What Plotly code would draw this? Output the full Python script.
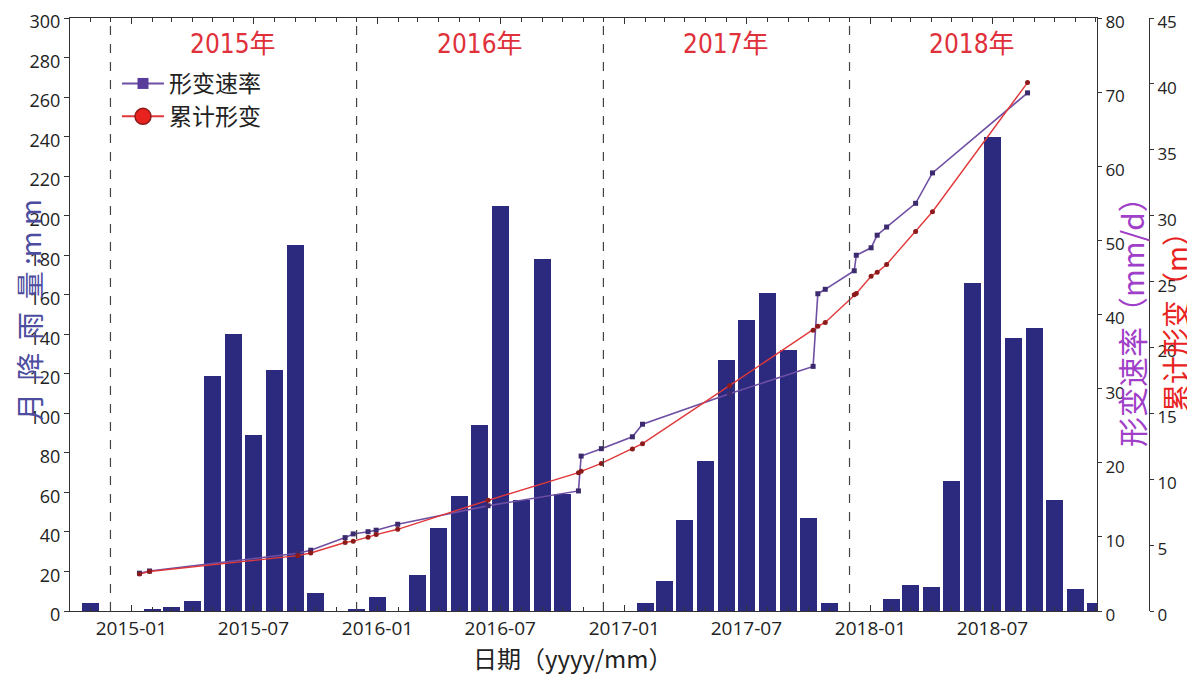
import plotly.graph_objects as go

# ---------------- data ----------------
months = ["2014-10-01", "2014-11-01", "2014-12-01",
          "2015-01-01", "2015-02-01", "2015-03-01", "2015-04-01", "2015-05-01", "2015-06-01",
          "2015-07-01", "2015-08-01", "2015-09-01", "2015-10-01", "2015-11-01", "2015-12-01",
          "2016-01-01", "2016-02-01", "2016-03-01", "2016-04-01", "2016-05-01", "2016-06-01",
          "2016-07-01", "2016-08-01", "2016-09-01", "2016-10-01", "2016-11-01", "2016-12-01",
          "2017-01-01", "2017-02-01", "2017-03-01", "2017-04-01", "2017-05-01", "2017-06-01",
          "2017-07-01", "2017-08-01", "2017-09-01", "2017-10-01", "2017-11-01", "2017-12-01",
          "2018-01-01", "2018-02-01", "2018-03-01", "2018-04-01", "2018-05-01", "2018-06-01",
          "2018-07-01", "2018-08-01", "2018-09-01", "2018-10-01", "2018-11-01", "2018-12-01"]
rain = [0, 4, 0,
        0, 1, 2, 5, 119, 140,
        89, 122, 185, 9, 0, 1,
        7, 0, 18, 42, 58, 94,
        205, 56, 178, 59, 0, 0,
        0, 4, 15, 46, 76, 127,
        147, 161, 132, 47, 4, 0,
        0, 6, 13, 12, 66, 166,
        240, 138, 143, 56, 11, 4]

obs_dates = ["2015-01-13", "2015-01-28", "2015-09-05", "2015-09-24", "2015-11-14",
             "2015-11-26", "2015-12-18", "2015-12-30", "2016-01-31", "2016-06-13",
             "2016-10-25", "2016-10-29", "2016-11-28", "2017-01-13", "2017-01-28",
             "2017-06-06", "2017-10-08", "2017-10-15", "2017-10-26", "2017-12-08",
             "2017-12-11", "2018-01-02", "2018-01-11", "2018-01-25", "2018-03-09",
             "2018-04-03", "2018-08-22"]
rate = [5.1, 5.4, 7.8, 8.2, 9.9,
        10.4, 10.7, 10.9, 11.7, 14.2,
        16.2, 20.9, 21.9, 23.5, 25.2,
        29.3, 33.0, 42.8, 43.4, 45.9,
        48.0, 49.0, 50.7, 51.8, 55.0,
        59.1, 69.9]
cum = [2.8, 3.0, 4.2, 4.4, 5.2,
       5.3, 5.6, 5.8, 6.2, 8.4,
       10.5, 10.6, 11.2, 12.3, 12.7,
       17.1, 21.3, 21.6, 21.9, 24.0,
       24.1, 25.4, 25.7, 26.3, 28.8,
       30.3, 40.1]

year_labels = ["2015年", "2016年", "2017年", "2018年"]
year_centers = ["2015-06-01", "2016-06-01", "2017-06-01", "2018-06-01"]
year_bounds = ["2014-12-01", "2015-12-01", "2016-12-01", "2017-12-01"]
tick_vals = ["2015-01-01", "2015-07-01", "2016-01-01", "2016-07-01",
             "2017-01-01", "2017-07-01", "2018-01-01", "2018-07-01"]
tick_text = ["2015-01", "2015-07", "2016-01", "2016-07",
             "2017-01", "2017-07", "2018-01", "2018-07"]

# ---------------- style ----------------
BAR = "#2c2a7e"
PURPLE = "#6e4fa3"
PURPLE_DARK = "#3b2a6e"
RED = "#e0383a"
RED_DARK = "#8c1a1a"
AXIS = "#333333"
CJK = "Noto Sans CJK SC, Open Sans, sans-serif"
NUM = "Open Sans, Noto Sans, sans-serif"
NARROW = "Liberation Sans Narrow, DejaVu Sans Condensed, Noto Sans CJK SC, sans-serif"

# page body has an 8px margin, so the figure is sized to fit the window
OFF = 8
W, H = 1195 - OFF, 674 - OFF
L, T, B_POS, R_POS, Y2_POS = 70 - OFF, 18 - OFF, 611 - OFF, 1149 - OFF, 1097 - OFF
plot_w = R_POS - L
plot_h = B_POS - T


def px_x(px):
    return (px - OFF - L) / plot_w


def px_y(py):
    return (B_POS - (py - OFF)) / plot_h


bar_width_ms = 25.2 * 86400000

fig = go.Figure()
fig.add_trace(go.Bar(x=months, y=rain, width=bar_width_ms, marker=dict(color=BAR, line=dict(width=0)),
                     showlegend=False, yaxis="y"))
fig.add_trace(go.Scatter(x=obs_dates, y=rate, mode="lines+markers", yaxis="y2", showlegend=False,
                         line=dict(color=PURPLE, width=1.6),
                         marker=dict(symbol="square", size=5, color=PURPLE_DARK)))
fig.add_trace(go.Scatter(x=obs_dates, y=cum, mode="lines+markers", yaxis="y3", showlegend=False,
                         line=dict(color=RED, width=1.4),
                         marker=dict(symbol="circle", size=5, color=RED_DARK)))
# legend entries
fig.add_trace(go.Scatter(x=[None], y=[None], mode="lines+markers", name="形变速率", yaxis="y2",
                         line=dict(color=PURPLE, width=2),
                         marker=dict(symbol="square", size=11, color="#5a3d9a")))
fig.add_trace(go.Scatter(x=[None], y=[None], mode="lines+markers", name="累计形变", yaxis="y3",
                         line=dict(color=RED, width=2),
                         marker=dict(symbol="circle", size=16, color="#e8231f",
                                     line=dict(color=RED_DARK, width=1.5))))

shapes = []
for b in year_bounds:
    shapes.append(dict(type="line", xref="x", yref="paper", x0=b, x1=b, y0=0, y1=1,
                       line=dict(color="#444444", width=1.2, dash="dash")))

annotations = []
for lab, c in zip(year_labels, year_centers):
    annotations.append(dict(text=lab, x=c, xref="x", y=px_y(44), yref="paper", showarrow=False,
                            xanchor="center", yanchor="middle",
                            font=dict(family=NARROW, size=26, color="#e0303a")))
NB = "\u00a0"
left_title = (NB * 2).join(["月", "降", "雨", "量"]) + NB + ":m" + NB + "m"
annotations += [
    dict(text=left_title, textangle=-90, x=px_x(29), xref="paper",
         y=px_y(310), yref="paper", showarrow=False, xanchor="center", yanchor="middle",
         font=dict(family=CJK, size=28, color="#4d4d9f")),
    dict(text="形变速率（mm/d）", textangle=-90, x=px_x(1131), xref="paper", y=px_y(315), yref="paper",
         showarrow=False, xanchor="center", yanchor="middle",
         font=dict(family=CJK, size=30, color="#a040c8")),
    dict(text="累计形变（m）", textangle=-90, x=px_x(1175), xref="paper", y=px_y(315), yref="paper",
         showarrow=False, xanchor="center", yanchor="middle",
         font=dict(family=CJK, size=28, color="#e8231f")),
    dict(text="日期（yyyy/mm）", x=px_x(573), xref="paper", y=px_y(657), yref="paper",
         showarrow=False, xanchor="center", yanchor="middle",
         font=dict(family=CJK, size=24, color="#222222")),
]

fig.update_layout(
    width=W, height=H, autosize=False,
    margin=dict(l=L, r=W - R_POS, t=T, b=H - B_POS, autoexpand=False),
    paper_bgcolor="white", plot_bgcolor="white",
    bargap=0,
    font=dict(family=NUM, color="#333333"),
    shapes=shapes, annotations=annotations,
    legend=dict(x=px_x(117), y=px_y(62), xanchor="left", yanchor="top",
                bgcolor="rgba(0,0,0,0)", font=dict(family=CJK, size=23, color="#222222"),
                tracegroupgap=0, itemwidth=42),
    xaxis=dict(type="date", domain=[0, (Y2_POS - L) / plot_w],
               range=["2014-10-02", "2018-12-03"],
               tickmode="array", tickvals=tick_vals, ticktext=tick_text,
               ticks="inside", ticklen=6, tickcolor=AXIS,
               minor=dict(dtick="M1", tick0="2015-01-01", ticks="inside", ticklen=4, tickcolor=AXIS),
               showline=True, linecolor=AXIS, linewidth=1, mirror="ticks",
               showgrid=False, zeroline=False, ticklabeloverflow="allow",
               ticklabelstandoff=0,
               tickfont=dict(family=NUM, size=19, color="#222222")),
    yaxis=dict(range=[0, 300], dtick=20, ticks="outside", ticklen=5, tickcolor=AXIS,
               showline=True, linecolor=AXIS, showgrid=False, zeroline=False,
               ticklabeloverflow="allow", ticklabelshift=4,
               tickfont=dict(family=NUM, size=18, color="#222222")),
    yaxis2=dict(overlaying="y", side="right", anchor="x", range=[0, 80], dtick=10,
                ticks="outside", ticklen=4, tickcolor=AXIS, ticklabeloverflow="allow",
                ticklabelshift=4,
                showline=True, linecolor=AXIS, showgrid=False, zeroline=False,
                tickfont=dict(family=NUM, size=17, color="#222222")),
    yaxis3=dict(overlaying="y", side="right", anchor="free", position=1.0, range=[0, 45], dtick=5,
                ticks="outside", ticklen=4, tickcolor=AXIS, ticklabeloverflow="allow",
                ticklabelshift=4,
                showline=True, linecolor=AXIS, showgrid=False, zeroline=False,
                tickfont=dict(family=NUM, size=17, color="#222222")),
)

fig.write_html("out.html")
